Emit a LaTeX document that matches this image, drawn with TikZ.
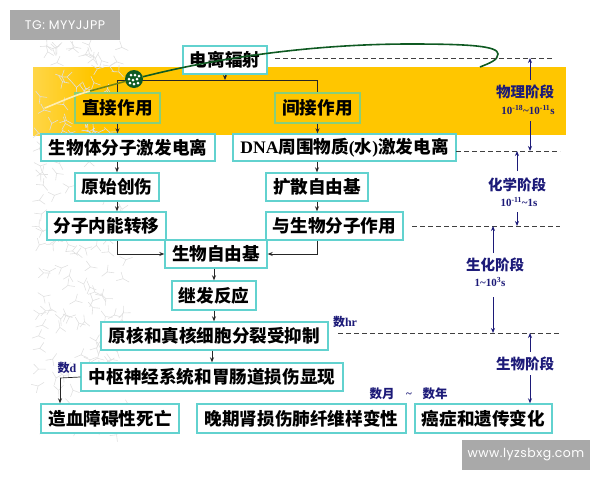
\documentclass[tikz,border=0pt]{standalone}
\usepackage{fontspec}
\setmainfont{Liberation Serif}
\newfontfamily\cjk{Noto Sans CJK SC}
\newfontfamily\markfont[LetterSpace=4]{Poppins}
\usetikzlibrary{arrows.meta}
\definecolor{bandcol}{HTML}{FFC600}
\definecolor{boxcol}{HTML}{62D2CF}
\definecolor{bandbox}{HTML}{86CF7C}
\definecolor{phasecol}{HTML}{1C1A78}
\definecolor{curvecol}{HTML}{0F5A22}
\definecolor{tagcol}{HTML}{A9A9A9}
\tikzset{
  stagebox/.style={draw=boxcol, line width=1.4pt, fill=white, inner sep=0pt, minimum height=28pt,
    text=black, font=\bfseries\fontsize{17.6}{19}\selectfont\cjk},
  phaselabel/.style={text=phasecol, inner sep=0pt, font=\bfseries\fontsize{14.5}{16}\selectfont\cjk},
  timelabel/.style={text=phasecol, inner sep=0pt, font=\bfseries\fontsize{11}{12}\selectfont},
  tagbox/.style={fill=tagcol, text=white, inner sep=0pt, font=\fontsize{12.5}{14}\selectfont\markfont},
  flow/.style={draw=black!85, line width=0.7pt, -{Stealth[length=5pt,width=4pt]}},
  flowline/.style={draw=black!85, line width=0.7pt},
  phasearrow/.style={draw=phasecol, line width=0.9pt, -{Stealth[length=5pt,width=4pt]}},
  phaseline/.style={draw=black!75, line width=0.7pt, dash pattern=on 5pt off 3pt}
}
\newcommand{\twig}[3]{%
  \draw[gray!24, line width=0.6pt, rotate around={#3:(#1,#2)}] (#1,#2) -- ++(0,7) (#1,#2) -- ++(-5,-5) (#1,#2) -- ++(5,-5);}
\begin{document}
\begin{tikzpicture}[x=1pt, y=-1pt]
  \useasboundingbox (0,0) rectangle (600,480);
  \fill[bandcol] (33,67) rectangle (566,135);
  \shade[left color=bandcol!72!white, right color=bandcol] (33,67) rectangle (90,135);
  % background twigs
  \pgfmathsetseed{11}
  \foreach \i in {1,...,170} {
    \pgfmathsetmacro{\tx}{38+rnd*92}
    \pgfmathsetmacro{\ty}{45+rnd*390}
    \pgfmathsetmacro{\ta}{rnd*360}
    \twig{\tx}{\ty}{\ta}
  }
  % tags
  \node[tagbox, minimum width=110pt, minimum height=30pt] (tagtop) at (65,25) {TG: MYYJJPP};
  \node[tagbox, minimum width=128pt, minimum height=30pt] (tagbot) at (526,455) {www.lyzsbxg.com};
  % stages
  \node[stagebox, minimum width=84pt] (source) at (225,60) {电离辐射};
  \node[stagebox, minimum width=85pt, minimum height=30pt, fill=bandcol, draw=bandbox] (direct) at (117.5,108) {直接作用};
  \node[stagebox, minimum width=85pt, minimum height=30pt, fill=bandcol, draw=bandbox] (indirect) at (317.5,108) {间接作用};
  \node[stagebox, minimum width=174pt, minimum height=27pt] (bio) at (128,147.5) {生物体分子激发电离};
  \node[stagebox, minimum width=223pt, minimum height=27pt] (dna) at (344.5,147.5) {{\rmfamily\bfseries DNA}周围物质{\rmfamily\bfseries (}水{\rmfamily\bfseries )}激发电离};
  \node[stagebox, minimum width=84pt] (damage) at (117,187) {原始创伤};
  \node[stagebox, minimum width=102pt] (spread) at (317,187) {扩散自由基};
  \node[stagebox, minimum width=119pt] (transfer) at (106.5,226) {分子内能转移};
  \node[stagebox, minimum width=137pt] (react) at (334.5,226) {与生物分子作用};
  \node[stagebox, minimum width=102pt] (radical) at (216,254) {生物自由基};
  \node[stagebox, minimum width=84pt, minimum height=29pt] (second) at (214,295.5) {继发反应};
  \node[stagebox, minimum width=227pt] (cell) at (214.5,336) {原核和真核细胞分裂受抑制};
  \node[stagebox, minimum width=262pt] (nerve) at (212,377) {中枢神经系统和胃肠道损伤显现};
  \node[stagebox, minimum width=138pt, minimum height=29pt] (blood) at (110,418.5) {造血障碍性死亡};
  \node[stagebox, minimum width=209pt, minimum height=29pt] (late) at (301.5,418.5) {晚期肾损伤肺纤维样变性};
  \node[stagebox, minimum width=137pt, minimum height=29pt] (cancer) at (483.5,418.5) {癌症和遗传变化};
  % flow
  \coordinate (busl) at (117.5,80);
  \coordinate (busr) at (317.5,80);
  \coordinate (bloodtop) at (60,378);
  \draw[flow] (source.south) -- (source.south |- busl);
  \draw[flowline] (direct.north) -- (busl) -- (busr) -- (indirect.north);
  \draw[flow] (direct.south) -- (direct.south |- bio.north);
  \draw[flow] (indirect.south) -- (indirect.south |- dna.north);
  \draw[flow] (damage.north |- bio.south) -- (damage.north);
  \draw[flow] (spread.north |- dna.south) -- (spread.north);
  \draw[flow] (damage.south) -- (damage.south |- transfer.north);
  \draw[flow] (spread.south) -- (spread.south |- react.north);
  \draw[flow] (damage.south |- transfer.south) |- (radical.west);
  \draw[flow] (spread.south |- react.south) |- (radical.east);
  \draw[flow] (second.north |- radical.south) -- (second.north);
  \draw[flow] (second.south) -- (second.south |- cell.north);
  \draw[flow] (nerve.north |- cell.south) -- (nerve.north);
  \draw[flowline] (nerve.west) -- (bloodtop);
  \draw[flow] (bloodtop) -- (bloodtop |- blood.north);
  % curve and particle
  \node[circle, fill=curvecol, minimum size=18pt, inner sep=0pt] (ball) at (134,79) {};
  \foreach \dx/\dy in {-4/-4, 0/-5, 4/-4, -5/0, -1/-1, 3/0, -3/4, 1/4, 5/3}
    \fill[white] ([xshift=\dx pt, yshift=\dy pt]ball.center) circle (1.5pt);
  \coordinate (tail) at (45,108);
  \coordinate (tip) at (480,67);
  \draw[white!70!bandcol, line width=1.6pt, line cap=round] (tail) .. controls (60,102) and (75,95) .. (90,91);
  \draw[curvecol!60!bandcol, line width=1.5pt] (90,91) -- (ball);
  \draw[curvecol, line width=1.6pt] (ball) .. controls (225,56) and (320,44) .. (410,44)
    .. controls (470,44) and (498,46) .. (498,54) .. controls (498,60) and (490,63) .. (tip);
  % phase levels
  \coordinate (lv1a) at (275,58); \coordinate (lv1b) at (552,58);
  \coordinate (lv2a) at (456,151); \coordinate (lv2b) at (560,151);
  \coordinate (lv3a) at (412,226); \coordinate (lv3b) at (560,226);
  \coordinate (lv4a) at (338,333); \coordinate (lv4b) at (560,333);
  \draw[phaseline] (lv1a) -- (lv1b);
  \draw[phaseline] (lv2a) -- (lv2b);
  \draw[phaseline] (lv3a) -- (lv3b);
  \draw[phaseline] (lv4a) -- (lv4b);
  % phases
  \node[phaselabel] (phys) at (525,92) {物理阶段};
  \node[timelabel] (physt) at (528,110) {10\textsuperscript{-18}\textasciitilde 10\textsuperscript{-11}s};
  \node[phaselabel] (chem) at (517,185) {化学阶段};
  \node[timelabel] (chemt) at (519,202) {10\textsuperscript{-11}\textasciitilde 1s};
  \node[phaselabel] (bioc) at (495,265) {生化阶段};
  \node[timelabel] (bioct) at (490,282) {1\textasciitilde 10\textsuperscript{3}s};
  \node[phaselabel] (biol) at (525,364) {生物阶段};
  \coordinate (c1) at (530,80); \coordinate (c2) at (530,121);
  \coordinate (c3) at (517,171); \coordinate (c4) at (517,212);
  \coordinate (c5) at (493,253); \coordinate (c6) at (493,297);
  \coordinate (c7) at (530,352); \coordinate (c8) at (530,375);
  \draw[phasearrow] (c1) -- (c1 |- lv1b);
  \draw[phasearrow] (c2) -- (c2 |- lv2b);
  \draw[phasearrow] (c3) -- (c3 |- lv2b);
  \draw[phasearrow] (c4) -- (c4 |- lv3b);
  \draw[phasearrow] (c5) -- (c5 |- lv3b);
  \draw[phasearrow] (c6) -- (c6 |- lv4b);
  \draw[phasearrow] (c7) -- (c7 |- lv4b);
  \draw[phasearrow] (c8) -- (c8 |- cancer.north);
  % times
  \node[timelabel, font=\bfseries\fontsize{12}{13}\selectfont] (hr) at (345,322) {{\cjk 数}hr};
  \node[timelabel, font=\bfseries\fontsize{12}{13}\selectfont] (days) at (67,368) {{\cjk 数}d};
  \node[timelabel, font=\bfseries\fontsize{12.5}{13}\selectfont\cjk] (months) at (382,394) {数月};
  \node[timelabel, font=\bfseries\fontsize{11}{12}\selectfont] (tilde) at (409,395) {\textasciitilde};
  \node[timelabel, font=\bfseries\fontsize{12.5}{13}\selectfont\cjk] (years) at (435,394) {数年};
\end{tikzpicture}
\end{document}
